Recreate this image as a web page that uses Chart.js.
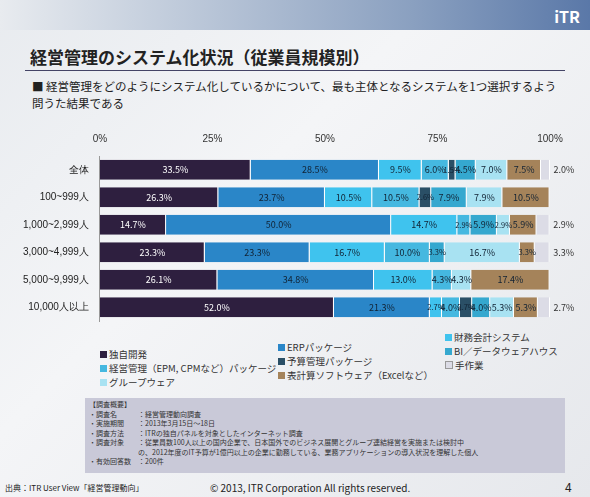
<!DOCTYPE html>
<html><head><meta charset="utf-8">
<script src="https://cdn.jsdelivr.net/npm/chart.js@4"></script>
<style>
body{margin:0;width:590px;height:497px;overflow:hidden;background:linear-gradient(135deg,#e8ebef,#f4f5f7 40%,#e6e8ec);font-family:"Noto Sans CJK JP",sans-serif;position:relative}
.t{position:absolute;color:#222}
#wrap{position:absolute;left:20px;top:130px;width:560px;height:200px}
.lg{position:absolute;font-size:9.5px;color:#333;white-space:nowrap}
.lg span{display:inline-block;width:7px;height:7px;margin-right:2px}
#box{position:absolute;left:85px;top:398px;width:480px;height:75px;background:#c9c9d8;font-size:7px;color:#333;line-height:9.5px;padding:2px 4px;box-sizing:border-box}
</style></head><body>
<div style="position:absolute;left:0;top:0;width:590px;height:30px;background:linear-gradient(90deg,#e8ebef,#8aa0c0 70%,#5a78a8)"></div>
<div class="t" style="right:10px;top:4px;color:#fff;font-weight:bold;font-size:16px">iTR</div>
<div class="t" style="left:30px;top:44px;font-size:17px;font-weight:bold">経営管理のシステム化状況（従業員規模別）</div>
<div style="position:absolute;left:25px;top:70px;width:540px;height:1px;background:#446"></div>
<div class="t" style="left:32px;top:78px;font-size:11.5px;line-height:17px;width:530px">■ 経営管理をどのようにシステム化しているかについて、最も主体となるシステムを1つ選択するよう問うた結果である</div>
<div id="wrap"><canvas id="c"></canvas></div>
<div class="lg" style="left:100px;top:347px"><span style="background:#2e1f3f"></span>独自開発</div>
<div class="lg" style="left:100px;top:361px"><span style="background:#45b8e0"></span>経営管理（EPM, CPMなど）パッケージ</div>
<div class="lg" style="left:100px;top:375px"><span style="background:#a8e2f2"></span>グループウェア</div>
<div class="lg" style="left:278px;top:340px"><span style="background:#2a86c8"></span>ERPパッケージ</div>
<div class="lg" style="left:278px;top:354px"><span style="background:#2a4f66"></span>予算管理パッケージ</div>
<div class="lg" style="left:278px;top:368px"><span style="background:#a5835a"></span>表計算ソフトウェア（Excelなど）</div>
<div class="lg" style="left:445px;top:330px"><span style="background:#3fc3ee"></span>財務会計システム</div>
<div class="lg" style="left:445px;top:344px"><span style="background:#35a8cf"></span>BI／データウェアハウス</div>
<div class="lg" style="left:445px;top:358px"><span style="background:#dcdce6;border:1px solid #999;width:6px;height:6px"></span>手作業</div>
<div id="box">【調査概要】<br>・調査名　　　：経営管理動向調査<br>・実施期間　　：2013年3月15日～18日<br>・調査方法　　：ITRの独自パネルを対象としたインターネット調査<br>・調査対象　　：従業員数100人以上の国内企業で、日本国外でのビジネス展開とグループ連結経営を実施または検討中<br>　　　　　　　の、2012年度のIT予算が1億円以上の企業に勤務している、業務アプリケーションの導入状況を理解した個人<br>・有効回答数　：200件</div>
<div class="t" style="left:5px;top:482px;font-size:8px">出典：ITR User View「経営管理動向」</div>
<div class="t" style="left:210px;top:480px;font-size:10px">© 2013, ITR Corporation All rights reserved.</div>
<div class="t" style="left:565px;top:478px;font-size:12px">4</div>
<script>
const categories=["全体","100~999人","1,000~2,999人","3,000~4,999人","5,000~9,999人","10,000人以上"];
const seriesNames=["独自開発","ERPパッケージ","財務会計システム","経営管理（EPM, CPMなど）パッケージ","予算管理パッケージ","BI／データウェアハウス","グループウェア","表計算ソフトウェア（Excelなど）","手作業"];
const dokuji=[33.5,26.3,14.7,23.3,26.1,52.0];
const erp=[28.5,23.7,50.0,23.3,34.8,21.3];
const zaimu=[9.5,10.5,14.7,16.7,13.0,2.7];
const keiei=[6.0,10.5,2.9,10.0,4.3,4.0];
const yosan=[1.5,2.6,0,0,0,2.7];
const bi=[4.5,7.9,5.9,3.3,0,4.0];
const group=[7.0,7.9,2.9,16.7,4.3,5.3];
const excel=[7.5,10.5,5.9,3.3,17.4,5.3];
const manual=[2.0,0,2.9,3.3,0,2.7];
const tickLabels=["0%","25%","50%","75%","100%"];
const colors=["#2e1f3f","#2a86c8","#3fc3ee","#45b8e0","#2a4f66","#35a8cf","#a8e2f2","#a5835a","#dcdce6"];
const txt=["#fff","#123","#123","#123","#123","#123","#123","#123","#123"];
const data=[dokuji,erp,zaimu,keiei,yosan,bi,group,excel,manual];
const lbl={id:'lbl',afterDatasetsDraw(ch){const c=ch.ctx;c.save();c.textAlign='center';c.textBaseline='middle';
ch.data.datasets.forEach((d,i)=>{ch.getDatasetMeta(i).data.forEach((b,j)=>{const v=d.data[j];if(!v)return;c.fillStyle=txt[i];
const w=b.x-b.base;c.font=(w<18?'7.5px':'9px')+' "Noto Sans CJK JP"';
const x=(b.x+b.base)/2;if(i==8){c.fillStyle='#333';c.font='9px "Noto Sans CJK JP"';c.fillText(v.toFixed(1)+'%',b.x+14,b.y);}else c.fillText(v.toFixed(1)+'%',x,b.y);});});c.restore();}};
new Chart(document.getElementById('c'),{type:'bar',
data:{labels:categories,datasets:data.map((d,i)=>({label:seriesNames[i],data:d,backgroundColor:colors[i],borderColor:'#ffffff',borderWidth:{right:1},barPercentage:0.72,categoryPercentage:1}))},
options:{indexAxis:'y',animation:false,responsive:true,maintainAspectRatio:false,layout:{padding:{right:30}},
plugins:{legend:{display:false},tooltip:{enabled:false}},
scales:{x:{stacked:true,min:0,max:100,position:'top',grid:{display:false},border:{display:false},ticks:{stepSize:25,color:'#333',font:{size:10},callback:(v,i)=>tickLabels[i]}},
y:{stacked:true,grid:{display:false},border:{color:'#999'},ticks:{color:'#222',font:{size:10}}}}},plugins:[lbl]});
</script></body></html>
